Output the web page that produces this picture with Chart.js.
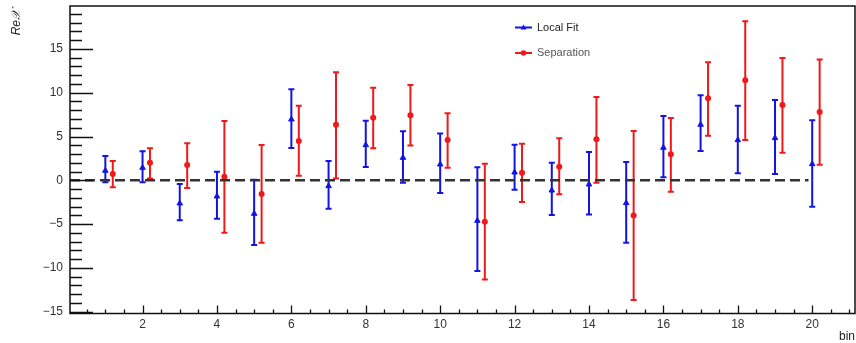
<!DOCTYPE html>
<html>
<head>
<meta charset="utf-8">
<script src="https://cdn.jsdelivr.net/npm/chart.js@4.4.1/dist/chart.umd.min.js"></script>
<style>
  html, body { margin: 0; padding: 0; background: #fff; }
  #wrap { width: 856px; height: 343px; }
</style>
</head>
<body>
<div id="wrap"><canvas id="binChart" width="856" height="343"></canvas></div>
<script>
// bins on the x axis
const bins = [1, 2, 3, 4, 5, 6, 7, 8, 9, 10, 11, 12, 13, 14, 15, 16, 17, 18, 19, 20];
// separation points sit a bit to the right of each bin
const sepShift = 0.2;

// Local Fit values and their lower / upper errors
const localFit     = [1.10, 1.44, -2.63, -1.83, -3.81, 6.96, -0.65, 4.03, 2.58, 1.82, -4.61, 0.91, -1.15, -0.46, -2.59, 3.73, 6.35, 4.60, 4.83, 1.86];
const localFitLow  = [1.33, 1.67, 1.94, 2.55, 3.58, 3.27, 2.59, 2.51, 2.85, 3.27, 5.75, 1.98, 2.81, 3.43, 4.53, 3.39, 3.00, 3.80, 4.11, 4.87];
const localFitHigh = [1.67, 1.87, 2.21, 2.82, 3.88, 3.43, 2.85, 2.78, 3.01, 3.54, 6.09, 3.16, 3.16, 3.69, 4.68, 3.61, 3.35, 3.92, 4.34, 4.99];

// Separation values and their lower / upper errors
const separation     = [0.72, 2.01, 1.75, 0.41, -1.56, 4.49, 6.35, 7.15, 7.42, 4.60, -4.72, 0.87, 1.56, 4.68, -4.00, 2.97, 9.36, 11.42, 8.60, 7.80];
const separationLow  = [1.52, 1.79, 2.63, 6.39, 5.56, 3.96, 6.13, 3.50, 3.43, 3.16, 6.59, 3.35, 3.16, 4.95, 9.67, 4.27, 4.26, 6.82, 5.44, 6.02];
const separationHigh = [1.48, 1.64, 2.47, 6.36, 5.59, 4.03, 5.98, 3.43, 3.46, 3.05, 6.62, 3.31, 3.23, 4.83, 9.63, 4.14, 4.11, 6.73, 5.37, 5.98];

// axis ranges and tick labels
const xRange = [0.05, 21.15];
const yRange = [-15.2, 19.9];
const xLabels = [2, 4, 6, 8, 10, 12, 14, 16, 18, 20];
const yLabels = [-15, -10, -5, 0, 5, 10, 15];
const zeroLine = [0.05, 19.9];

const BLUE = 'rgb(20,20,225)';
const RED = 'rgb(240,25,25)';

function minus(v) {
    return v < 0 ? '\u2212' + Math.abs(v) : String(v);
}

function noPad(s) {
    s.paddingTop = 0; s.paddingBottom = 0;
    s.paddingLeft = 0; s.paddingRight = 0;
}

// error bars, inner ticks, frame, legend and titles in ROOT style
const rootStyle = {
    id: 'rootStyle',
    beforeDatasetsDraw(chart) {
        const ctx = chart.ctx;
        const xs = chart.scales.x, ys = chart.scales.y;
        ctx.save();
        chart.data.datasets.forEach(ds => {
            if (!ds.errLow) return;
            ctx.strokeStyle = ds.borderColor;
            ctx.lineWidth = 2;
            ds.data.forEach((p, i) => {
                const px = xs.getPixelForValue(p.x);
                const top = ys.getPixelForValue(p.y + ds.errHigh[i]);
                const bot = ys.getPixelForValue(p.y - ds.errLow[i]);
                ctx.beginPath();
                ctx.moveTo(px, top); ctx.lineTo(px, bot);
                ctx.moveTo(px - 3, top); ctx.lineTo(px + 3, top);
                ctx.moveTo(px - 3, bot); ctx.lineTo(px + 3, bot);
                ctx.stroke();
            });
        });
        ctx.restore();
    },
    afterDraw(chart) {
        const ctx = chart.ctx;
        const a = chart.chartArea;
        const xs = chart.scales.x, ys = chart.scales.y;
        ctx.save();
        ctx.strokeStyle = '#111';
        ctx.lineWidth = 1.5;
        ctx.strokeRect(a.left, a.top, a.right - a.left, a.bottom - a.top);

        // y ticks, every unit, longer every 5
        ctx.beginPath();
        for (let v = -15; v <= 19; v++) {
            const py = Math.round(ys.getPixelForValue(v)) + 0.5;
            const len = v % 5 === 0 ? 23 : 12;
            ctx.moveTo(a.left, py); ctx.lineTo(a.left + len, py);
        }
        // x ticks, every half unit, longer on the labelled ones
        for (let v = 0.5; v <= 21; v += 0.5) {
            const px = Math.round(xs.getPixelForValue(v)) + 0.5;
            const len = v % 2 === 0 ? 8 : 4;
            ctx.moveTo(px, a.bottom); ctx.lineTo(px, a.bottom - len);
        }
        ctx.lineWidth = 1.3;
        ctx.stroke();

        // legend
        ctx.font = '11px "Liberation Sans", Arial, sans-serif';
        ctx.textBaseline = 'middle';
        ctx.textAlign = 'left';
        const legendRows = [[chart.data.datasets[1], 27.5, '#222'], [chart.data.datasets[2], 53, '#555']];
        legendRows.forEach(([ds, ly, tc]) => {
            ctx.strokeStyle = ds.borderColor;
            ctx.lineWidth = 2;
            ctx.beginPath();
            ctx.moveTo(515, ly); ctx.lineTo(532, ly);
            ctx.stroke();
            ctx.fillStyle = ds.borderColor;
            ctx.beginPath();
            if (ds.pointStyle === 'triangle') {
                ctx.moveTo(523.5, ly - 3); ctx.lineTo(526.5, ly + 2); ctx.lineTo(520.5, ly + 2);
            } else {
                ctx.arc(523.5, ly, 2.8, 0, Math.PI * 2);
            }
            ctx.fill();
            ctx.fillStyle = tc;
            ctx.fillText(ds.label, 537, ly);
        });

        // axis titles
        ctx.fillStyle = '#222';
        ctx.font = '12px "Liberation Sans", Arial, sans-serif';
        ctx.textAlign = 'right';
        ctx.textBaseline = 'middle';
        ctx.fillText('bin', 855, 337);
        ctx.translate(17, 10);
        ctx.rotate(-Math.PI / 2);
        ctx.font = 'italic 12px "Liberation Sans", Arial, sans-serif';
        ctx.fillText('Re\u{1D4B3}', 0, 0);
        ctx.restore();
    }
};

const ctx = document.getElementById('binChart').getContext('2d');
new Chart(ctx, {
    type: 'scatter',
    data: {
        datasets: [
            {
                label: 'zero',
                type: 'line',
                data: zeroLine.map(x => ({ x: x, y: 0 })),
                borderColor: '#333',
                borderWidth: 2.5,
                borderDash: [10, 5],
                pointRadius: 0
            },
            {
                label: 'Local Fit',
                data: bins.map((b, i) => ({ x: b, y: localFit[i] })),
                errLow: localFitLow,
                errHigh: localFitHigh,
                borderColor: BLUE,
                backgroundColor: BLUE,
                pointStyle: 'triangle',
                pointRadius: 3.2,
                borderWidth: 1
            },
            {
                label: 'Separation',
                data: bins.map((b, i) => ({ x: b + sepShift, y: separation[i] })),
                errLow: separationLow,
                errHigh: separationHigh,
                borderColor: RED,
                backgroundColor: RED,
                pointStyle: 'circle',
                pointRadius: 3,
                borderWidth: 0
            }
        ]
    },
    options: {
        responsive: false,
        animation: false,
        events: [],
        layout: { autoPadding: false, padding: { left: 0, top: 6, right: 1, bottom: 0 } },
        plugins: { legend: { display: false }, tooltip: { enabled: false } },
        scales: {
            x: {
                type: 'linear',
                min: xRange[0],
                max: xRange[1],
                grid: { display: false, drawTicks: false },
                border: { display: false },
                afterBuildTicks: s => { s.ticks = xLabels.map(v => ({ value: v })); },
                afterFit: s => { s.height = 29.5; noPad(s); },
                ticks: {
                    autoSkip: false,
                    maxRotation: 0,
                    padding: 4,
                    color: '#333',
                    font: { family: '"Liberation Sans", Arial, sans-serif', size: 12 },
                    callback: v => minus(v)
                }
            },
            y: {
                type: 'linear',
                min: yRange[0],
                max: yRange[1],
                grid: { display: false, drawTicks: false },
                border: { display: false },
                afterBuildTicks: s => { s.ticks = yLabels.map(v => ({ value: v })); },
                afterFit: s => { s.width = 70; noPad(s); },
                ticks: {
                    autoSkip: false,
                    padding: 7,
                    color: '#333',
                    font: { family: '"Liberation Sans", Arial, sans-serif', size: 12 },
                    callback: v => minus(v)
                }
            }
        }
    },
    plugins: [rootStyle]
});
</script>
</body>
</html>
